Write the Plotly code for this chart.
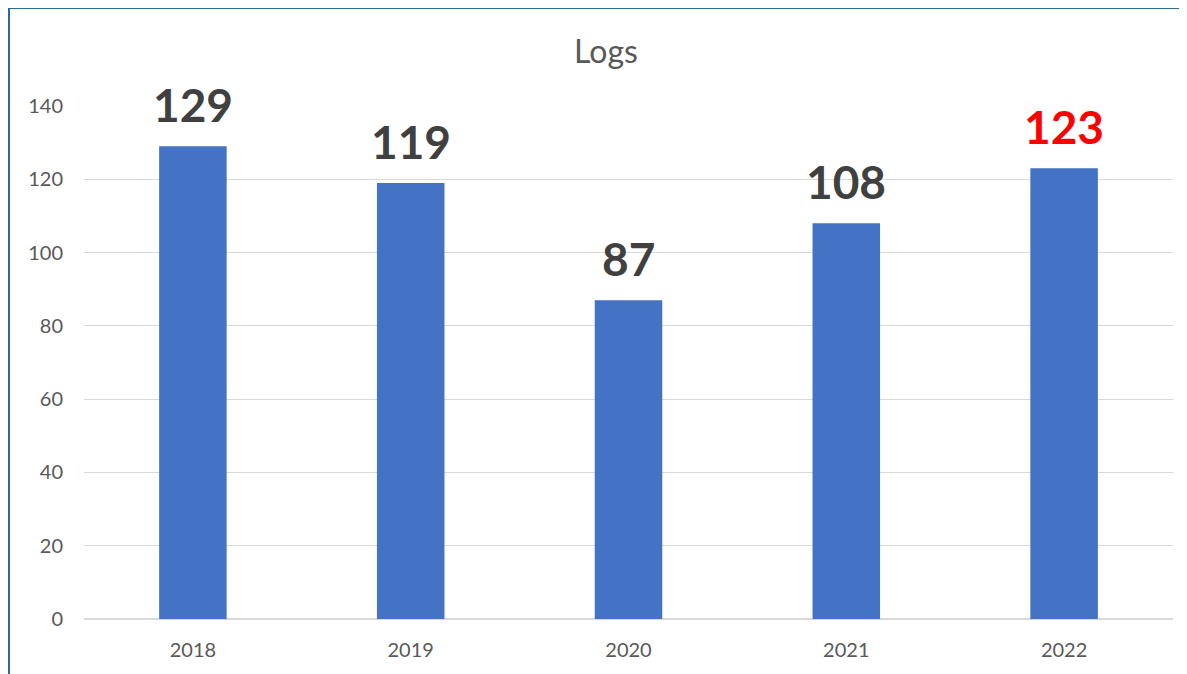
import plotly.graph_objects as go

years = ['2018', '2019', '2020', '2021', '2022']
logs = [129, 119, 87, 108, 123]
label_colors = ['#404040', '#404040', '#404040', '#404040', '#ff0000']
y_ticks = [0, 20, 40, 60, 80, 100, 120, 140]

# the page body adds an 8px margin, so the figure is 8px smaller than the window
W, H = 1179, 666
ml, mr, mt, mb = 76, 14, 98, 55
pw, ph = W - ml - mr, H - mt - mb

fig = go.Figure()
fig.add_trace(go.Bar(x=years, y=logs, marker_color='#4472c4', marker_line_width=0, width=0.31))

# value labels; x given as category index so they don't stretch the axis
for i, (v, c) in enumerate(zip(logs, label_colors)):
    fig.add_annotation(x=i, y=v, text=f'<b>{v}</b>', showarrow=False, yanchor='bottom', yshift=12,
                       font=dict(family='Lato', size=46, color=c))

# outer frame (left and top edges)
px_x = lambda p: (p - ml) / pw
px_y = lambda p: 1 - (p - mt) / ph
fig.add_shape(type='line', xref='paper', yref='paper', x0=px_x(1), x1=px_x(1), y0=px_y(0), y1=px_y(H + 5),
              line=dict(color='#2e6a99', width=2))
fig.add_shape(type='line', xref='paper', yref='paper', x0=px_x(0), x1=px_x(W + 5), y0=px_y(0), y1=px_y(0),
              line=dict(color='#2e6a99', width=2))

fig.update_layout(width=W, height=H, margin=dict(l=ml, r=mr, t=mt, b=mb),
                  paper_bgcolor='white', plot_bgcolor='white', showlegend=False,
                  title=dict(text='Logs', x=598 / W, xanchor='center', y=1 - 44 / H, yanchor='middle',
                             font=dict(family='Lato', size=32, color='#595959')),
                  font=dict(family='Lato', size=20, color='#595959'))
fig.update_yaxes(range=[0, 140], tickvals=y_ticks, showgrid=True, gridcolor='#d9d9d9', gridwidth=1,
                 zeroline=True, zerolinecolor='#d9d9d9', ticks='', ticklabelstandoff=20, automargin=False,
                 tickfont=dict(size=20, color='#595959'))
fig.update_xaxes(type='category', range=[-0.5, 4.5], showgrid=False, ticks='', showline=False,
                 automargin=False, ticklabelstandoff=17, tickfont=dict(size=20, color='#595959'))

fig.write_html('out.html')
